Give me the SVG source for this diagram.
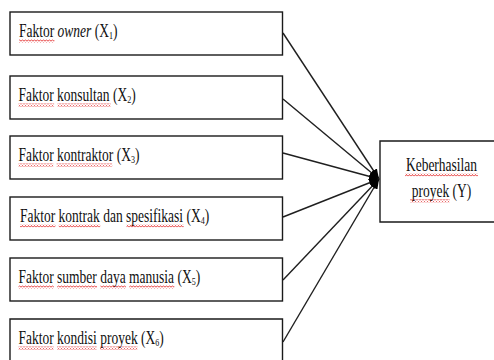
<svg xmlns="http://www.w3.org/2000/svg" width="494" height="360" viewBox="0 0 494 360">
<style>
.box{fill:#fff;stroke:#1a1a1a;stroke-width:1.4}
.t{font-family:"Liberation Serif","Times New Roman",serif;font-size:18.5px;fill:#111}
.c{text-anchor:middle}
.sub{font-size:11px}
.conn{stroke:#1f1f1f;stroke-width:1.4;fill:none;marker-end:url(#ah)}
.sq{fill:url(#wave)}
</style>
<defs>
<marker id="ah" markerUnits="userSpaceOnUse" markerWidth="10" markerHeight="8" refX="10" refY="4" orient="auto" viewBox="0 0 10 8">
<path d="M0,0 L10,4 L0,8 z" fill="#000"/>
</marker>
<pattern id="wave" patternUnits="userSpaceOnUse" width="3" height="3">
<path d="M0,2.5 L1.5,0.5 L3,2.5" fill="none" stroke="#e01010" stroke-width="0.8"/>
</pattern>
</defs>
<rect width="494" height="360" fill="#fff"/>
<g id="connectors">
<line class="conn" x1="283" y1="33" x2="379" y2="179"/>
<line class="conn" x1="283" y1="99" x2="379" y2="179"/>
<line class="conn" x1="283" y1="153" x2="379" y2="179"/>
<line class="conn" x1="283" y1="217" x2="379" y2="179"/>
<line class="conn" x1="283" y1="280" x2="379" y2="179"/>
<line class="conn" x1="283" y1="342" x2="379" y2="179"/>
</g>
<g id="x1">
<rect class="box" x="10" y="12" width="272.5" height="43"/>
<text class="t" transform="translate(19 36.7) scale(0.73 1)">Faktor <tspan font-style="italic">owner</tspan> (X<tspan class="sub" dy="2">1</tspan><tspan dy="-2">)</tspan></text>
<rect class="sq" x="19" y="39.5" width="35.4" height="3"/>
</g>
<g id="x2">
<rect class="box" x="10" y="76" width="272.5" height="43"/>
<text class="t" transform="translate(18.5 100.7) scale(0.73 1)">Faktor konsultan (X<tspan class="sub" dy="2">2</tspan><tspan dy="-2">)</tspan></text>
<rect class="sq" x="18.5" y="103.5" width="35.6" height="3"/>
<rect class="sq" x="57.5" y="103.5" width="53.1" height="3"/>
</g>
<g id="x3">
<rect class="box" x="10" y="136" width="272.5" height="43"/>
<text class="t" transform="translate(18.5 160.7) scale(0.73 1)">Faktor kontraktor (X<tspan class="sub" dy="2">3</tspan><tspan dy="-2">)</tspan></text>
<rect class="sq" x="18.5" y="163.5" width="34.8" height="3"/>
<rect class="sq" x="56.6" y="163.5" width="55.6" height="3"/>
</g>
<g id="x4">
<rect class="box" x="10" y="197" width="272.5" height="43"/>
<text class="t" transform="translate(20 221.5) scale(0.73 1)">Faktor kontrak dan spesifikasi (X<tspan class="sub" dy="2">4</tspan><tspan dy="-2">)</tspan></text>
<rect class="sq" x="20" y="224.3" width="35.4" height="3"/>
<rect class="sq" x="58.8" y="224.3" width="41.4" height="3"/>
<rect class="sq" x="126.5" y="224.3" width="57.2" height="3"/>
</g>
<g id="x5">
<rect class="box" x="10" y="258" width="272.5" height="43"/>
<text class="t" transform="translate(18.5 282.7) scale(0.73 1)">Faktor sumber daya manusia (X<tspan class="sub" dy="2">5</tspan><tspan dy="-2">)</tspan></text>
<rect class="sq" x="18.5" y="285.5" width="35.3" height="3"/>
<rect class="sq" x="57.2" y="285.5" width="39.8" height="3"/>
<rect class="sq" x="100.4" y="285.5" width="25.5" height="3"/>
<rect class="sq" x="129.3" y="285.5" width="45" height="3"/>
</g>
<g id="x6">
<path class="box" d="M10,362 V319 H282.5 V362"/>
<text class="t" transform="translate(18.5 343.7) scale(0.73 1)">Faktor kondisi proyek (X<tspan class="sub" dy="2">6</tspan><tspan dy="-2">)</tspan></text>
<rect class="sq" x="18.5" y="346.5" width="35.1" height="3"/>
<rect class="sq" x="57" y="346.5" width="39.6" height="3"/>
<rect class="sq" x="100" y="346.5" width="37.4" height="3"/>
</g>
<g id="y">
<path class="box" d="M495,141 H380 V222 H495"/>
<text class="t c" transform="translate(441.5 170.5) scale(0.73 1)">Keberhasilan</text>
<rect class="sq" x="405" y="173.3" width="73" height="3"/>
<text class="t c" transform="translate(441.5 196.5) scale(0.73 1)">proyek (Y)</text>
<rect class="sq" x="410" y="199.3" width="39.6" height="3"/>
</g>
</svg>
